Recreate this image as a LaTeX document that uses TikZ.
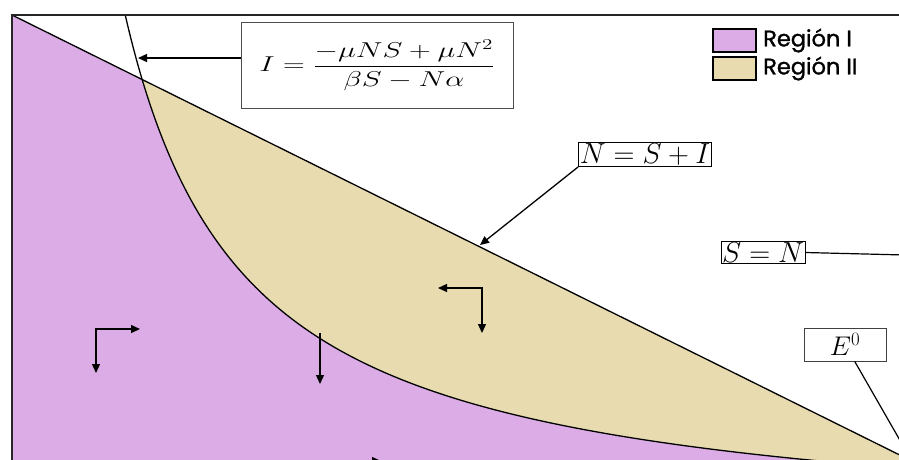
\documentclass[tikz,border=0pt]{standalone}
\usepackage{fix-cm}
\usepackage{fontspec}
\usepackage{graphicx}
\newfontfamily\legfont[FakeBold=1.2]{Poppins}
\usetikzlibrary{arrows.meta}
\definecolor{regI}{RGB}{220,172,230}
\definecolor{regII}{RGB}{232,219,175}
\begin{document}
\begin{tikzpicture}[x=1pt,y=-1pt,
  bnd/.style={line width=1.3pt, black},
  tip/.style={-{Triangle[length=9pt,width=8pt]}},
  arr/.style={line width=1.3pt, tip},
  darr/.style={line width=1.3pt, {Triangle[length=9pt,width=8pt]}-{Triangle[length=9pt,width=8pt]}},
  lbl/.style={draw, line width=0.9pt, inner sep=1pt, font=\fontsize{29}{30}\selectfont},
  swatch/.style={draw, line width=1.2pt, minimum width=43pt, minimum height=23pt, inner sep=0pt},
  legtxt/.style={anchor=west, inner sep=0pt, font=\legfont\fontsize{22.5}{26}\selectfont}
]
\useasboundingbox (0,0) rectangle (899,459);
\clip (0,0) rectangle (899,459);

\coordinate (O) at (12,15);
\coordinate (E0) at (930,470);

% region II (below the line)
\fill[regII] (O) -- (E0) -- (940,480) -- (12,480) -- cycle;
% region I (below line and left of curve)
\begin{scope}
  \clip (O) -- (E0) -- (940,480) -- (12,480) -- cycle;
  \fill[regI] plot[domain=125.2:935, samples=300] (\x, {538.2-629.05/((\x-5)/100)})
     -- (940,480) -- (0,480) -- (0,15) -- cycle;
\end{scope}

% boundaries
\draw[bnd] (O) -- (E0);
\draw[bnd] plot[domain=125.2:935, samples=300] (\x, {538.2-629.05/((\x-5)/100)});

% frame
\draw[line width=2pt, black!85] (12,470) -- (O) -- (910,15);

% formula box
\node[draw=black!70, line width=1pt, minimum width=272pt, minimum height=86pt, inner sep=0pt] (fI) at (377,65)
  {\fontsize{21.5}{25}\selectfont\scalebox{1.4}[1]{$I=\displaystyle\frac{-\mu NS+\mu N^2}{\beta S-N\alpha}$}};
\coordinate (cI) at (138,58);
\draw[arr] (fI.west |- cI) -- (cI);

% N = S + I
\node[lbl] (nsi) at (645,154.5) {$N=S+I$};
\coordinate (cN) at (480,245);
\draw[arr] (nsi.south west) -- (cN);

% S = N
\node[lbl] (sn) at (763,252.5) {$S=N$};
\coordinate (cS) at (905,255);
\draw[line width=1.2pt] (sn.east) -- (cS);

% E^0
\node[draw=black!75, line width=1pt, minimum width=82pt, minimum height=33pt, inner sep=0pt,
      font=\fontsize{27}{29}\selectfont] (e0) at (845,344.5) {$E^0$};
\coordinate (E0p) at (917,470);
\draw[line width=1.2pt] (e0) -- (E0p);

% direction arrows
\draw[darr] (140,329) -- (96,329) -- (96,373);
\coordinate (a1) at (320,333);
\coordinate (a2) at (320,384);
\draw[arr] (a1) -- (a2);
\draw[darr] (438,288) -- (482,288) -- (482,333);
\coordinate (b1) at (337,461);
\coordinate (b2) at (381,461);
\draw[arr] (b1) -- (b2);

% legend
\node[swatch, fill=regI] (s1) at (734.5,40.5) {};
\node[swatch, fill=regII] (s2) at (734.5,68.5) {};
\node[legtxt] (t1) at (763,40.5) {Región I};
\node[legtxt] (t2) at (763,68.5) {Región II};
\end{tikzpicture}
\end{document}
